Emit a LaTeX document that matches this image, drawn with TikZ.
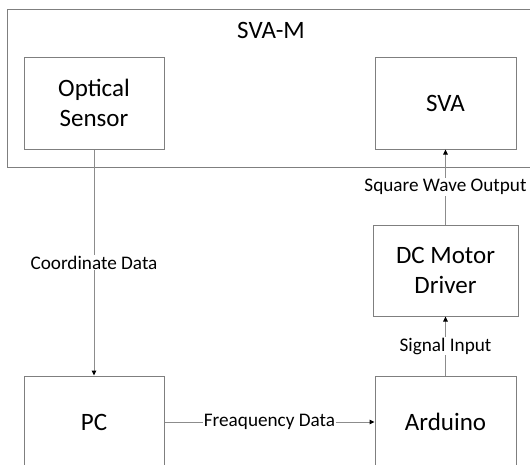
\documentclass[tikz,border=0pt]{standalone}
\usepackage{fontspec}
\setmainfont{Carlito}
\usepackage{tikz}
\usetikzlibrary{arrows.meta,positioning}
\definecolor{boxgray}{HTML}{7F7F7F}
\definecolor{wiregray}{HTML}{8C8C8C}
\tikzset{
  blockbox/.style={
    rectangle, draw=boxgray, line width=1pt,
    minimum width=140pt, minimum height=92pt,
    font=\fontsize{25}{30.5}\selectfont, align=center,
    inner sep=2pt
  },
  sigarrow/.style={
    -{Triangle[length=5pt,width=4.5pt,color=black]}, line width=1pt, color=wiregray
  },
  siglabel/.style={
    fill=white, text=black, inner sep=1pt, font=\fontsize{19.2}{23}\selectfont
  },
}

\begin{document}
\begin{tikzpicture}[x=1pt, y=-1pt]
  \useasboundingbox (0,0) rectangle (530,464);
  \clip (0,0) rectangle (530,464);

  % outer module
  \node[blockbox, minimum width=528pt, minimum height=158pt] (svam) at (271,88) {};
  \node[font=\fontsize{25}{30}\selectfont] (svamlbl) at (271,30) {SVA-M};

  \node[blockbox] (sensor) at (94,103) {Optical\\Sensor};
  \node[blockbox, minimum width=141pt] (sva) at (445.5,103) {SVA};
  \node[blockbox, minimum width=145pt, minimum height=91pt] (driver) at (445.5,270.5) {DC Motor\\Driver};
  \node[blockbox] (pc) at (94,422) {PC};
  \node[blockbox, minimum width=141pt] (arduino) at (445.5,422) {Arduino};

  \draw[sigarrow] (sensor) -- (pc)
    node[midway, siglabel] {Coordinate Data};
  \draw[sigarrow] (pc) -- (arduino)
    node[midway, siglabel] {Freaquency Data};
  \draw[sigarrow] (arduino) -- (driver)
    node[midway, siglabel] {Signal Input};
  \draw[sigarrow] (driver) -- (sva)
    node[midway, siglabel] {Square Wave Output};
\end{tikzpicture}
\end{document}
